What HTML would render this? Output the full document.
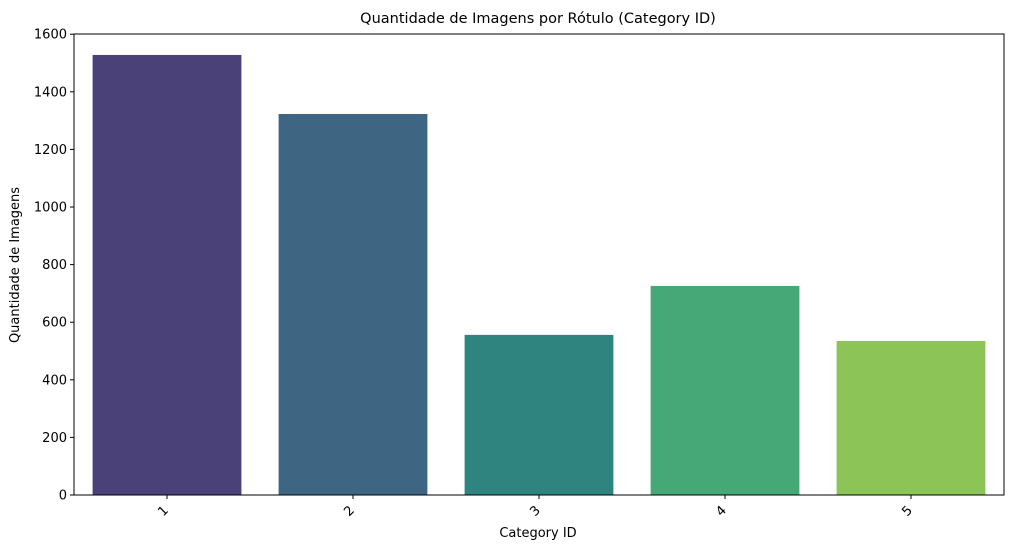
<!DOCTYPE html>
<html><head><meta charset="utf-8"><style>
body{margin:0;background:#fff}
svg{display:block;font-family:"DejaVu Sans","Liberation Sans",sans-serif}
</style></head><body>
<svg id="chart" width="1013" height="550">
<text x="538" y="23" text-anchor="middle" font-size="14.5">Quantidade de Imagens por Rótulo (Category ID)</text>
<text x="538" y="537" text-anchor="middle" font-size="13">Category ID</text>
<text transform="translate(19,265) rotate(-90)" text-anchor="middle" font-size="13">Quantidade de Imagens</text>
<g id="bars"></g><g id="axes"></g>
</svg>
<script>
const categories = ["1","2","3","4","5"];
const values = [1528, 1323, 556, 726, 535];
const colors = ["#4a4179","#3e6682","#30847f","#47a877","#8dc457"];
const yTicks = [0,200,400,600,800,1000,1200,1400,1600];
const L=74,R=1004,T=34,B=495,YMAX=1600.8;
const NS="http://www.w3.org/2000/svg";
const y=v=>B-(v/YMAX)*(B-T);
const band=(R-L)/categories.length;
const x=i=>L+band*i+band/2;
const bars=document.getElementById('bars'),axes=document.getElementById('axes');
function mk(tag,attrs,parent){const e=document.createElementNS(NS,tag);for(const k in attrs)e.setAttribute(k,attrs[k]);parent.appendChild(e);return e;}
categories.forEach((c,i)=>{
  const w=band*0.8;
  const r=mk('rect',{x:x(i)-w/2,y:y(values[i]),width:w,height:B-y(values[i]),fill:colors[i]},bars);
  
  
  mk('line',{x1:x(i),x2:x(i),y1:B,y2:B+4,stroke:'#000','stroke-width':1},axes);
  const t=mk('text',{x:0,y:0,'font-size':13,'text-anchor':'middle',transform:`translate(${x(i)-1},${B+19}) rotate(-45)`},axes);
  t.textContent=c;
  
  
});
yTicks.forEach(v=>{
  mk('line',{x1:L-4,x2:L,y1:y(v),y2:y(v),stroke:'#000','stroke-width':1},axes);
  const t=mk('text',{x:L-7,y:y(v)+4.5,'font-size':13,'text-anchor':'end'},axes);
  t.textContent=v;
  
  
});
const f=mk('rect',{x:L,y:T,width:R-L,height:B-T,fill:'none',stroke:'#000','stroke-width':1},axes);


</script>
</body></html>
